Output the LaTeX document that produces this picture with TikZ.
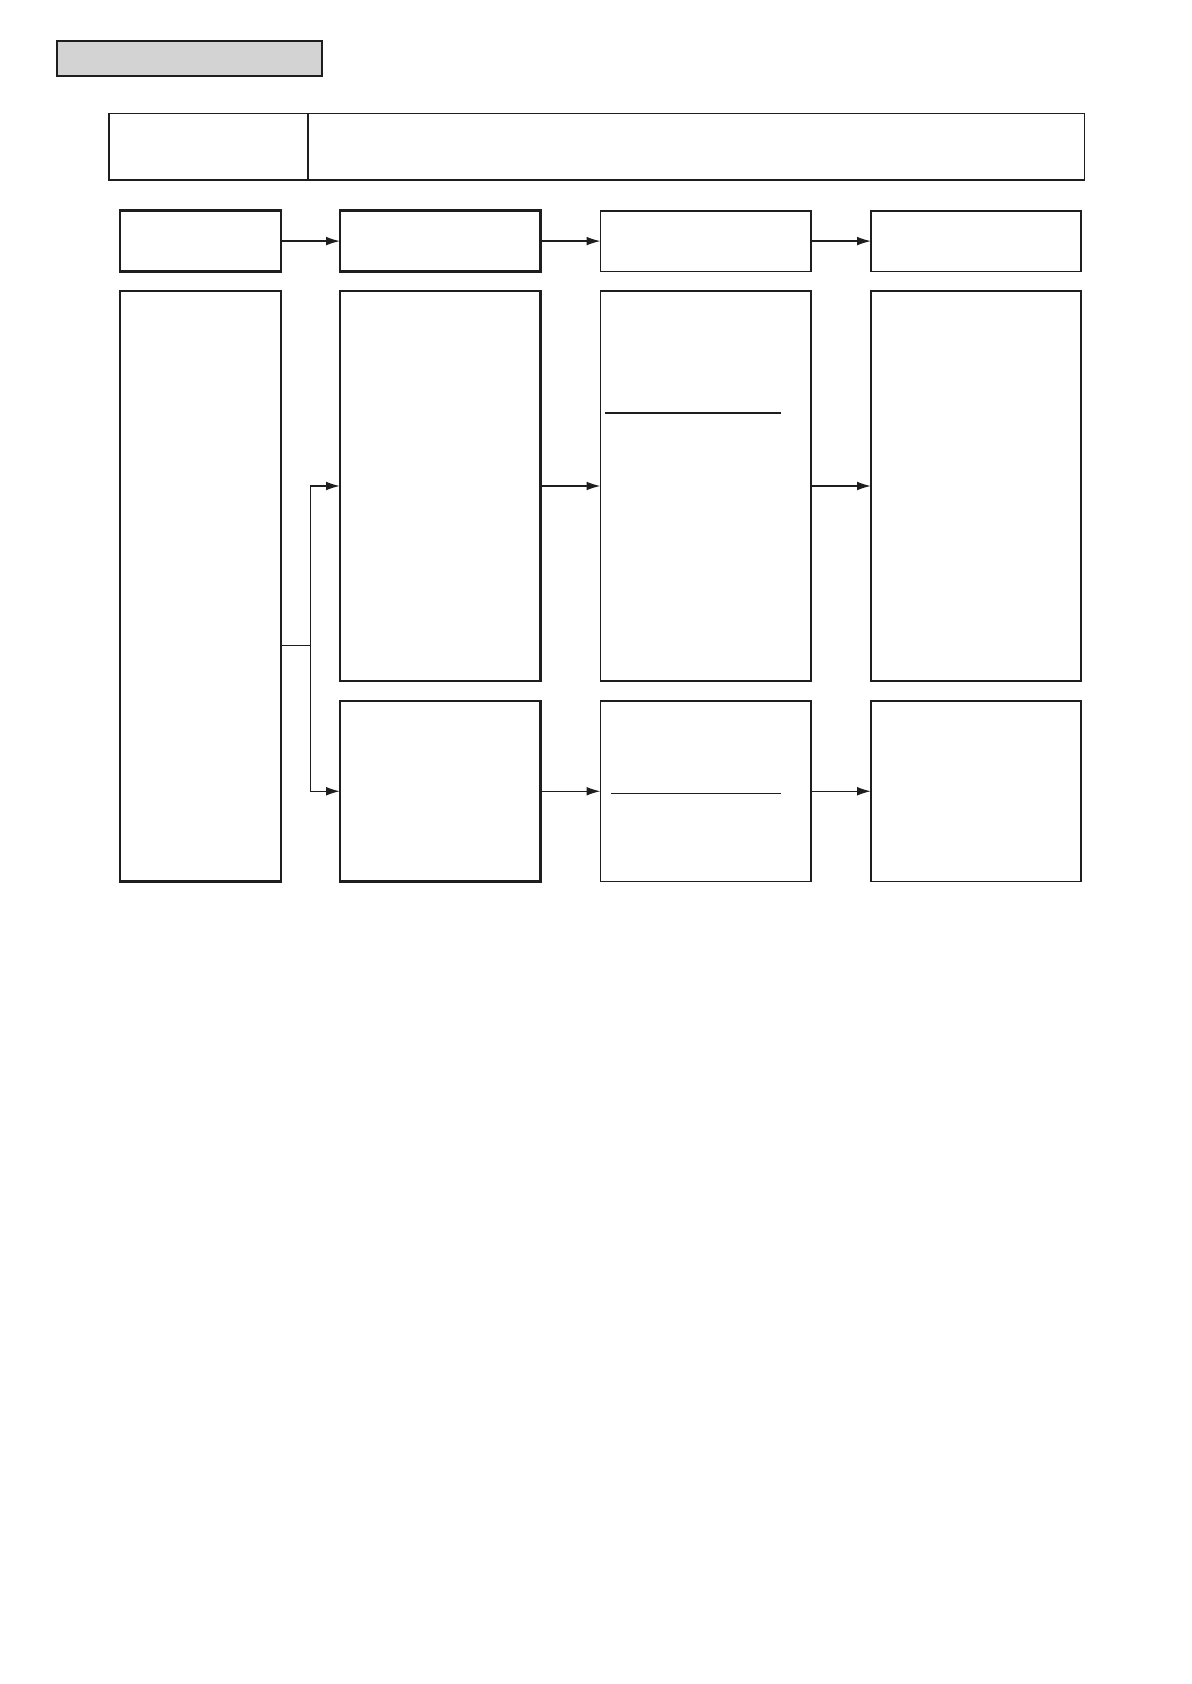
\documentclass[tikz,border=0pt]{standalone}
\usetikzlibrary{arrows.meta,fit}
\definecolor{boxgray}{HTML}{D3D3D3}
\definecolor{ink}{HTML}{1E1E1E}
\tikzset{
  thickbox/.style={draw=ink, line width=1.35pt, inner sep=0pt, outer sep=0pt, rectangle},
  thinbox/.style={draw=ink, line width=0.95pt, inner sep=0pt, outer sep=0pt, rectangle},
  graybox/.style={draw=ink, fill=boxgray, line width=1pt, inner sep=0pt, outer sep=0pt, rectangle},
  conn/.style={draw=ink, line width=0.75pt},
  arr/.style={conn, -{Latex[length=7pt,width=4.4pt]}},
  rule/.style={draw=ink, line width=0.85pt},
  thinrule/.style={draw=ink, line width=0.5pt}
}
\begin{document}
\begin{tikzpicture}[x=0.5pt,y=-0.5pt]
\useasboundingbox (0,0) rectangle (1191,1684);
% title bar
\node[graybox, fit={(57,41) (322,76)}] (title) {};
% header table
\node[thinbox, fit={(108.7,113.5) (1084.5,180)}] (hdr) {};
\coordinate (hdiv) at (308,113.5);
\draw[conn, line width=0.95pt] (hdr.north -| hdiv) -- (hdr.south -| hdiv);
% row 1
\node[thickbox, fit={(120,210.7) (281,271.5)}] (ra) {};
\node[thickbox, fit={(340,210.7) (540.5,271.5)}] (rb) {};
\node[thinbox, fit={(600.5,210.7) (811,271.5)}] (rc) {};
\node[thinbox, fit={(871,210.7) (1081,271.5)}] (rd) {};
\draw[arr] (ra.east) -- (rb.west);
\draw[arr] (rb.east) -- (rc.west);
\draw[arr] (rc.east) -- (rd.west);
% big left box
\node[thickbox, fit={(120,291) (281,881.5)}] (big) {};
% upper row
\node[thickbox, fit={(340,291) (540.5,681)}] (ub) {};
\node[thinbox, fit={(600.5,291) (811,681)}] (uc) {};
\node[thinbox, fit={(871,291) (1081,681)}] (ud) {};
% lower row
\node[thickbox, fit={(340,701) (540.5,881.5)}] (lb) {};
\node[thinbox, fit={(600.5,701) (811,881.5)}] (lc) {};
\node[thinbox, fit={(871,701) (1081,881.5)}] (ld) {};
% branch
\coordinate (br) at (310.7,645.7);
\draw[conn] (big.east |- br) -- (br);
\draw[arr] (br) |- (ub.west);
\draw[arr] (br) |- (lb.west);
\draw[arr] (ub.east) -- (uc.west);
\draw[arr] (uc.east) -- (ud.west);
\draw[arr] (lb.east) -- (lc.west);
\draw[arr] (lc.east) -- (ld.west);
% inner rules
\coordinate (uL) at (605,413);
\coordinate (uR) at (781,413);
\draw[rule] (uL) -- (uR);
\coordinate (lL) at (611,793.3);
\coordinate (lR) at (781,793.3);
\draw[thinrule] (lL) -- (lR);
\end{tikzpicture}
\end{document}
